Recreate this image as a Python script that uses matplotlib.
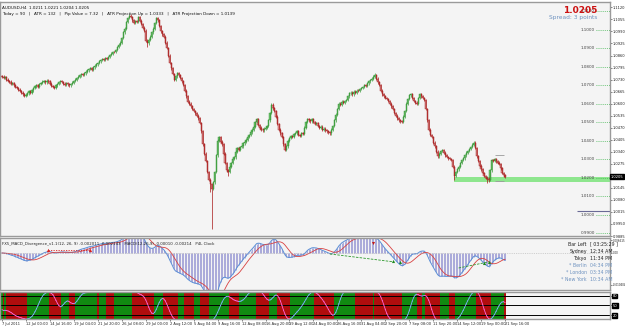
import numpy as np
import matplotlib
matplotlib.use("Agg")
import matplotlib.pyplot as plt

W, H = 625, 328

# AUDUSD H4 closes, in pips above 1.0000
closes_pips = [
    745, 738, 742, 730, 722, 718, 705, 712, 698, 690, 684, 676, 668, 660, 650, 642,
    648, 655, 668, 660, 672, 685, 694, 700, 692, 706, 712, 718, 722, 715, 724, 720,
    708, 696, 690, 684, 698, 705, 715, 722, 716, 708, 700, 712, 704, 698, 706, 714,
    722, 730, 738, 746, 752, 760, 755, 764, 772, 780, 786, 790, 784, 796, 805, 812,
    820, 828, 836, 842, 838, 845, 840, 852, 862, 870, 880, 878, 890, 905, 918, 930,
    955, 985, 1005, 1040, 1062, 1075, 1068, 1050, 1038, 1045, 1042, 1066, 1048, 1030, 1010, 995,
    940, 925, 945, 962, 985, 1005, 1035, 1060, 1050, 1020, 990, 975, 962, 930, 900, 860,
    820, 790, 760, 730, 748, 765, 752, 738, 720, 700, 670, 640, 610, 600, 585, 570,
    560, 548, 535, 520, 495, 450, 380, 330, 290, 230, 190, 165, 140, 175, 230, 320,
    400, 420, 395, 380, 330, 280, 240, 230, 260, 280, 300, 310, 340, 360, 350, 365,
    370, 385, 395, 405, 420, 430, 445, 460, 475, 500, 515, 485, 470, 460, 455, 465,
    470, 480, 510, 550, 595, 575, 560, 530, 490, 460, 440, 420, 380, 350, 370, 400,
    415, 425, 420, 435, 440, 450, 430, 425, 440, 435, 470, 500, 515, 510, 505, 515,
    500, 490, 495, 480, 470, 475, 460, 465, 455, 450, 445, 440, 460, 480, 510, 540,
    570, 600, 595, 610, 605, 615, 620, 640, 655, 660, 650, 665, 660, 670, 668, 680,
    685, 690, 700, 695, 710, 720, 728, 735, 745, 752, 735, 715, 700, 670, 650, 640,
    630, 625, 615, 600, 585, 570, 550, 535, 520, 510, 505, 500, 530, 560, 600, 625,
    645, 650, 630, 615, 605, 600, 630, 650, 640, 630, 620, 570, 510, 460, 430, 420,
    390, 370, 340, 315, 330, 345, 350, 335, 320, 312, 305, 300, 296, 260, 210, 230,
    245, 260, 280, 295, 305, 320, 335, 345, 355, 365, 378, 390, 360, 315, 290, 265,
    245, 225, 210, 200, 195, 190, 240, 295, 290, 300, 288, 282, 275, 250, 225, 212, 205,
]
first_open = 750
# long wicks that stand out (bar index -> pips)
long_highs = {85: 1085, 91: 1072, 103: 1068, 249: 765, 315: 400}
long_lows = {97: 905, 139: 120, 140: -77, 151: 210, 302: 185, 324: 170, 325: 175}
wick = 7

# MACD divergence marks: (bar index, MACD value)
bear_div = [(31, 0.0010), (59, 0.0010)]
bull_div = [[(219, -0.0003), (262, -0.0028)], [(305, -0.0047), (325, -0.0028)]]
bull_arrows = [(261, -0.0026), (266, -0.0028), (322, -0.0030), (325, -0.0027)]
bear_arrows = [(248, 0.0030)]

tick_labels = ["7 Jul 2011", "12 Jul 00:00", "14 Jul 16:00", "19 Jul 04:00", "21 Jul 20:00",
               "26 Jul 08:00", "29 Jul 00:00", "2 Aug 12:00", "5 Aug 04:00", "9 Aug 16:00",
               "12 Aug 08:00", "16 Aug 20:00", "19 Aug 12:00", "24 Aug 00:00", "26 Aug 16:00",
               "31 Aug 04:00", "2 Sep 20:00", "7 Sep 08:00", "11 Sep 20:00", "14 Sep 12:00",
               "19 Sep 00:00", "21 Sep 16:00"]
round_levels = [1.1100, 1.1000, 1.0900, 1.0800, 1.0700, 1.0600, 1.0500, 1.0400,
                1.0300, 1.0200, 1.0100, 1.0000, 0.9900]
price_ticks = [1.1120, 1.1055, 1.0990, 1.0925, 1.0860, 1.0795, 1.0730, 1.0665, 1.0600,
               1.0535, 1.0470, 1.0405, 1.0340, 1.0275, 1.0145, 1.0080, 1.0015, 0.9950, 0.9885]
zone_low, zone_high = 1.0177, 1.0203
clock_rows = [("Bar Left", "[ 03:25:29 ]", "#222222"), ("Sydney", "12:34 AM", "#222222"),
              ("Tokyo", "11:34 PM", "#222222"), ("* Berlin", "04:34 PM", "#6f93c0"),
              ("* London", "03:34 PM", "#6f93c0"), ("* New York", "10:34 AM", "#6f93c0")]

closes = 1 + np.array(closes_pips) / 10000.0
opens = np.concatenate([[1 + first_open / 10000.0], closes[:-1]])
n = len(closes)
idx = np.arange(n)
highs = np.maximum(opens, closes) + wick / 10000.0
lows = np.minimum(opens, closes) - wick / 10000.0
for k, v in long_highs.items():
    highs[k] = 1 + v / 10000.0
for k, v in long_lows.items():
    lows[k] = 1 + v / 10000.0

fig = plt.figure(figsize=(W / 100, H / 100), dpi=100)
fig.patch.set_facecolor("white")
bg = "#f4f4f4"
xl = (-1.34, 406.1)
axw = 610 / W
fs_axis = 2.6


def add_panel(top, bottom):
    a = fig.add_axes([0, 1 - bottom / H, axw, (bottom - top) / H])
    a.set_facecolor(bg)
    a.set_xlim(*xl)
    a.yaxis.tick_right()
    a.tick_params(axis="both", labelsize=fs_axis, length=1.2, width=0.4, pad=0.6, colors="#222222")
    for s in a.spines.values():
        s.set_color("#9a9a9a")
        s.set_linewidth(1.0)
    a.set_xticks([])
    return a


# ---- main price panel
ax = add_panel(2, 236)
ax.set_ylim(0.9892, 1.1149)
bull = closes >= opens
ax.vlines(idx, lows, highs, colors=np.where(bull, "#3a9a3a", "#a81818"), lw=0.5)
body_h = np.maximum(np.abs(closes - opens), 0.00004)
ax.bar(idx, body_h, bottom=np.minimum(opens, closes), width=0.8,
       color=np.where(bull, "#6cc46c", "#e39a9a"),
       edgecolor=np.where(bull, "#2f8f2f", "#9c1010"), linewidth=0.3)
ax.fill_between([302, xl[1]], zone_low, zone_high, color="#8ee68e", lw=0, zorder=0.5)
ax.hlines([1.0325, 1.0180], 329, 335, colors="#9a9a9a", lw=0.6)
ax.hlines(1.0018, 384, xl[1], colors="#6a6a96", lw=0.8)
for lv in round_levels:
    ax.hlines(lv, 397, xl[1], colors="#3cb44b", lw=0.6, linestyles=(0, (1, 1.5)))
    ax.text(396, lv, f"{lv:.4f}", fontsize=3.0, color="#444444", ha="right", va="center")
ax.set_yticks(price_ticks)
ax.set_yticklabels([f"{t:.4f}" for t in price_ticks])
ax.text(xl[1] + 0.5, closes[-1], f"{closes[-1]:.4f}", fontsize=fs_axis, color="white",
        va="center", ha="left", bbox=dict(boxstyle="square,pad=0.1", fc="black", ec="black"),
        clip_on=False)
ax.text(0.004, 0.985, "AUDUSD,H4  1.0211 1.0221 1.0204 1.0205", transform=ax.transAxes,
        fontsize=3.0, va="top", color="#111111")
ax.text(0.004, 0.958, "Today = 90   |   ATR = 132   |   Pip Value = 7.32   |   "
        "ATR Projection Up = 1.0333   |   ATR Projection Down = 1.0139",
        transform=ax.transAxes, fontsize=3.0, va="top", color="#111111")
ax.text(0.98, 0.985, "1.0205", transform=ax.transAxes, fontsize=6.5, fontweight="bold",
        color="#cc1111", ha="right", va="top")
ax.text(0.98, 0.945, "Spread: 3 points", transform=ax.transAxes, fontsize=4.2,
        color="#6f93c0", ha="right", va="top")

# ---- MACD panel
axm = add_panel(238, 290)
ema12 = np.zeros(n)
ema26 = np.zeros(n)
ema12[0] = ema26[0] = closes[0]
for i in range(1, n):
    ema12[i] = ema12[i - 1] + 2 / 13 * (closes[i] - ema12[i - 1])
    ema26[i] = ema26[i - 1] + 2 / 27 * (closes[i] - ema26[i - 1])
macd = ema12 - ema26
signal = np.array([macd[max(0, i - 8):i + 1].mean() for i in range(n)])
axm.set_ylim(-0.0116, 0.0047)
axm.vlines(idx, 0, macd, colors="#8c8cd0", lw=0.5)
axm.plot(idx, macd, color="#5b8fd6", lw=0.7)
axm.plot(idx, signal, color="#d84040", lw=0.6)
axm.axhline(0, color="#b0b0b0", lw=0.4, ls=(0, (2, 2)))
bx, by = zip(*bear_div)
axm.plot(bx, by, color="#d82020", lw=0.6, ls=(0, (1.5, 1.5)))
axm.scatter(bx, by, marker="^", s=6, color="#d82020", lw=0, zorder=5)
for seg in bull_div:
    gx, gy = zip(*seg)
    axm.plot(gx, gy, color="#2e9a2e", lw=0.6, ls=(0, (3, 1.5)))
ax_, ay_ = zip(*bull_arrows)
axm.scatter(ax_, ay_, marker="^", s=5, color="#1e8a1e", lw=0, zorder=5)
rx_, ry_ = zip(*bear_arrows)
axm.scatter(rx_, ry_, marker="v", s=5, color="#c01818", lw=0, zorder=5)
axm.set_yticks([0.0040, 0.0, -0.0100])
axm.set_yticklabels(["0.006615", "0.00", "-0.010404"])
for t in axm.get_yticklabels():
    t.set_fontsize(2.0)
axm.text(0.004, 0.93, "FX5_MACD_Divergence_v1.1(12, 26, 9) -0.002011 -0.002143   "
         "MACD(12,26,9) -0.00010 -0.00214   P4L Clock", transform=axm.transAxes,
         fontsize=2.8, va="top", color="#222222")
for r, (name, val, col) in enumerate(clock_rows):
    yy = 0.93 - r * 0.135
    axm.text(0.962, yy, name, transform=axm.transAxes, fontsize=3.4, color=col,
             ha="right", va="top")
    axm.text(0.968, yy, val, transform=axm.transAxes, fontsize=3.4, color=col,
             ha="left", va="top")

# ---- oscillator panel
axs = add_panel(292, 319)
k_len = 14
hh = np.array([highs[max(0, i - k_len + 1):i + 1].max() for i in range(n)])
ll = np.array([lows[max(0, i - k_len + 1):i + 1].min() for i in range(n)])
raw = 100 * (closes - ll) / (hh - ll)
slow = np.array([raw[max(0, i - 4):i + 1].mean() for i in range(n)])
line = np.array([slow[max(0, i - 4):i + 1].mean() for i in range(n)])
rising = np.concatenate([[True], np.diff(line) >= 0])
axs.set_ylim(8, 91)
axs.bar(idx, 83, bottom=8, width=1.0, color=np.where(rising, "#118a11", "#b00d0d"), lw=0)
for lv in (80, 50, 20):
    axs.axhline(lv, color="black", lw=0.7)
for i in range(1, n):
    axs.plot(idx[i - 1:i + 1], line[i - 1:i + 1], lw=0.6,
             color="#7fb2ff" if rising[i] else "#ff66d9")
axs.set_yticks([80, 50, 20])
axs.set_yticklabels(["80", "50", "20"])
for t in axs.get_yticklabels():
    t.set_color("white")
    t.set_bbox(dict(boxstyle="square,pad=0.1", fc="black", ec="black"))
axs.set_xticks(np.arange(len(tick_labels)) * 16)
axs.set_xticklabels(tick_labels, ha="left")
axs.tick_params(axis="x", labelsize=2.6, length=1.2, pad=0.8)

fig.savefig("out.png", dpi=100, facecolor=fig.get_facecolor())
